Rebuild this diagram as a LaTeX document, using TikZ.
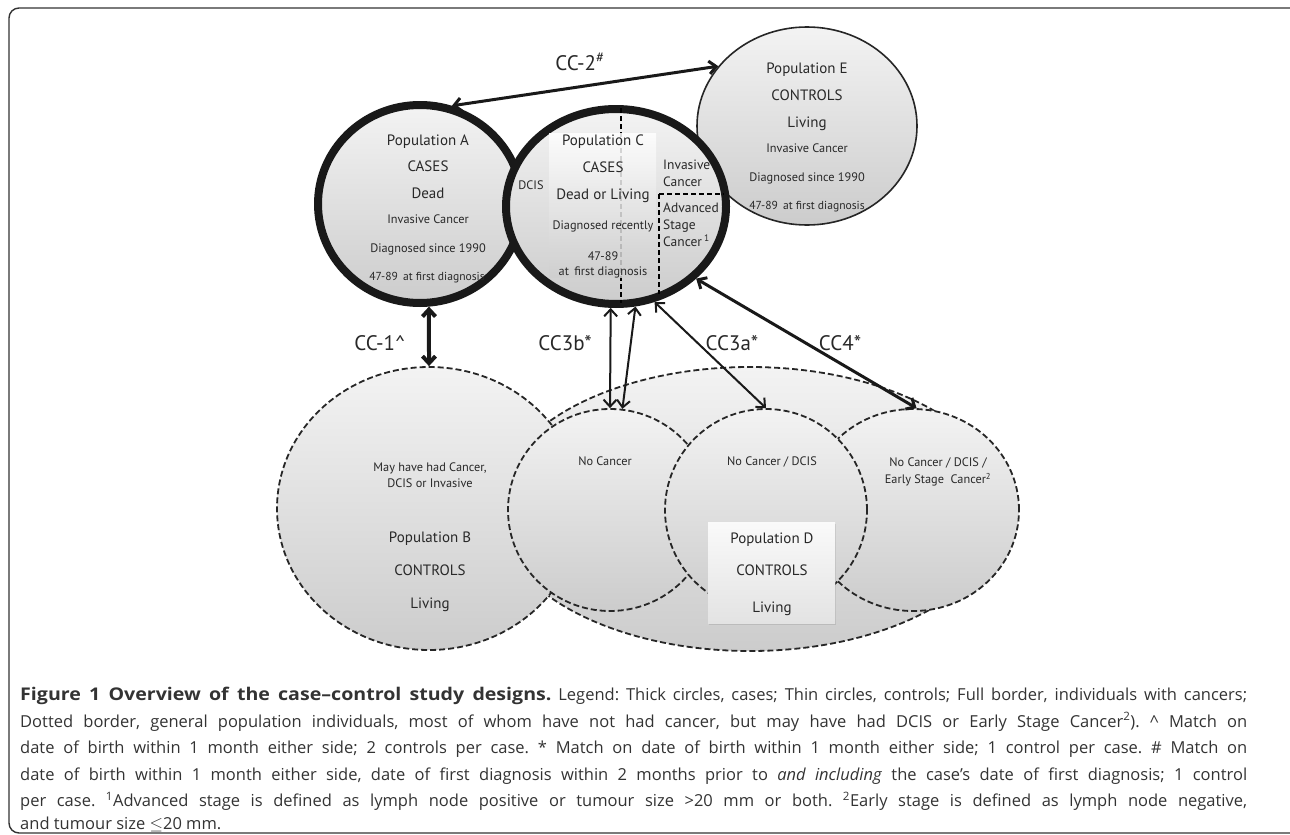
\documentclass[tikz,border=0pt]{standalone}
\usepackage{fontspec}
\setmainfont{PT Sans}
\newfontfamily\capfont{Open Sans}
\usetikzlibrary{arrows.meta,shapes.geometric,shadows}
\definecolor{lightfill}{RGB}{243,243,243}
\definecolor{darkfill}{RGB}{204,204,204}
\definecolor{inkgray}{RGB}{40,40,40}

\tikzset{
  popshade/.style={top color=lightfill, bottom color=darkfill},
  casering/.style={ellipse, draw=black!90, line width=8pt, popshade, inner sep=0pt},
  ctrlring/.style={ellipse, draw=black!85, line width=1.6pt, popshade, inner sep=0pt},
  genring/.style={ellipse, draw=black!85, line width=1.8pt, dash pattern=on 6pt off 3pt, popshade, inner sep=0pt},
  poptxt/.style={font=\fontsize{15}{18}\selectfont, text=inkgray, anchor=base, inner sep=0pt},
  infotxt/.style={font=\fontsize{12.3}{15}\selectfont, text=inkgray, anchor=base, inner sep=0pt},
  agetxt/.style={font=\fontsize{11.6}{14}\selectfont, text=inkgray, anchor=base, inner sep=0pt},
  sidetxt/.style={font=\fontsize{13.5}{16}\selectfont, text=inkgray, anchor=base west, inner sep=0pt},
  cclabel/.style={font=\fontsize{21}{25}\selectfont, text=inkgray, anchor=base, inner sep=0pt},
  captxt/.style={font=\capfont\fontsize{16.5}{19}\selectfont\frenchspacing, text=black!80, anchor=base west, inner sep=0pt},
  ccarrow/.style={{Straight Barb[length=7pt,width=13pt]}-{Straight Barb[length=7pt,width=13pt]}, line width=#1, black!90},
  ccarrow/.default=2pt
}
\newcommand{\capline}[1]{\makebox[1227pt][s]{#1}}
\newcommand{\capbold}[1]{{\fontsize{17.5}{19}\selectfont\bfseries\addfontfeatures{FakeStretch=1.12}#1}}

\begin{document}
\begin{tikzpicture}[x=1pt, y=-1pt]
  \useasboundingbox (0,0) rectangle (1290,835);
  % frame round figure and caption
  \draw[line width=1.4pt, black!80, rounded corners=10pt] (1300,8) -- (9,8) -- (9,833) -- (1300,833);

  % general population controls (dotted borders)
  \node[genring, minimum width=510pt, minimum height=284pt] (genpop) at (750,509) {};
  \node[genring, minimum width=304pt, minimum height=283pt] (popB) at (429,508.5) {};
  \node[genring, minimum width=204pt, minimum height=202pt] (noC) at (610,510) {};
  \node[genring, minimum width=212pt, minimum height=202pt] (noCE) at (913,510) {};
  \node[genring, minimum width=202pt, minimum height=202pt] (noCD) at (766,510) {};
  \node[draw=none, top color=gray!4, bottom color=gray!22, minimum width=127pt, minimum height=101pt,
        drop shadow={opacity=0.25, shadow xshift=1pt, shadow yshift=-1.5pt}] (popDbox) at (771.5,572.5) {};

  % cases and cancer controls (full borders)
  \node[casering, minimum width=204pt, minimum height=198pt] (popA) at (420,204) {};
  \node[ctrlring, minimum width=220pt, minimum height=198pt] (popE) at (807,126) {};
  \node[casering, minimum width=220pt, minimum height=195pt] (popC) at (616,206.5) {};

  % subdivisions of population C
  \draw[line width=1.4pt, dash pattern=on 5pt off 3pt] (621,108) -- (621,303);
  \draw[line width=1.4pt, dash pattern=on 5pt off 3pt] (659,194) -- (724,194);
  \draw[line width=1.4pt, dash pattern=on 5pt off 3pt] (659,194) -- (659,294);
  \node[draw=none, top color=white, bottom color=gray!38, fill opacity=0.85, minimum width=107pt,
        minimum height=144pt] (popCbox) at (602.5,205) {};

  % population A
  \node[poptxt] (aname) at (428,145) {Population A};
  \node[poptxt] (acase) at (428,171) {CASES};
  \node[poptxt] (adead) at (428,198) {Dead};
  \node[infotxt] (ainv) at (428,223.5) {Invasive Cancer};
  \node[infotxt] (adiag) at (428,252.5) {Diagnosed since 1990};
  \node[agetxt] (aage) at (427,280) {47-89\ \,at first diagnosis};

  % population C
  \node[poptxt] (cname) at (603,145) {Population C};
  \node[poptxt] (ccase) at (603,172) {CASES};
  \node[poptxt] (cdead) at (603,199) {Dead or Living};
  \node[infotxt] (cdiag) at (603,229.5) {Diagnosed recently};
  \node[infotxt] (cage) at (603,260.5) {47-89};
  \node[infotxt] (cage2) at (603,275.5) {at\ \,first diagnosis};
  \node[infotxt] (cdcis) at (531,189.5) {DCIS};
  \node[sidetxt] (cinv) at (663,169.5) {Invasive};
  \node[sidetxt] (cinv2) at (663,186.5) {Cancer};
  \node[sidetxt] (cadv) at (663,212.5) {Advanced};
  \node[sidetxt] (cadv2) at (663,229.5) {Stage};
  \node[sidetxt] (cadv3) at (663,246.5) {Cancer\,\textsuperscript{1}};

  % population E
  \node[poptxt] (ename) at (807,73) {Population E};
  \node[poptxt] (ectrl) at (807,100) {CONTROLS};
  \node[poptxt] (eliv) at (807,127) {Living};
  \node[infotxt] (einv) at (807,152.5) {Invasive Cancer};
  \node[infotxt] (ediag) at (807,181.5) {Diagnosed since 1990};
  \node[agetxt] (eage) at (807,209.5) {47-89\ \,at first diagnosis};

  % population B
  \node[infotxt] (bmay) at (430,471.5) {May have had Cancer,};
  \node[infotxt] (bmay2) at (430,487.5) {DCIS or Invasive};
  \node[poptxt] (bname) at (430,542) {Population B};
  \node[poptxt] (bctrl) at (430,575) {CONTROLS};
  \node[poptxt] (bliv) at (430,608) {Living};

  % general population subgroups
  \node[infotxt] (f1txt) at (605,465.5) {No Cancer};
  \node[infotxt] (f2txt) at (772,465.5) {No Cancer / DCIS};
  \node[infotxt] (f3txt) at (938,466.5) {No Cancer / DCIS /};
  \node[infotxt] (f3txt2) at (938,483.5) {Early Stage\ \ Cancer\textsuperscript{2}};

  % population D
  \node[poptxt] (dname) at (772,543) {Population D};
  \node[poptxt] (dctrl) at (772,575) {CONTROLS};
  \node[poptxt] (dliv) at (772,612) {Living};

  % matching arrows
  \draw[ccarrow=3pt] (popA.72) -- (popE.146);
  \draw[ccarrow=4pt] (popA.-85) -- (popB.north);
  \draw[ccarrow] (popC.-93) -- (noC.north);
  \draw[ccarrow] (popC.-79) -- (noC.83);
  \draw[ccarrow] (popC.-68) -- (noCD.north);
  \draw[ccarrow=3pt] (popC.-42) -- (noCE.88);

  \node[cclabel] (lcc2) at (580,70) {CC-2\textsuperscript{\#}};
  \node[cclabel] (lcc1) at (380,350) {CC-1\textasciicircum};
  \node[cclabel] (lcc3b) at (565,350) {CC3b*};
  \node[cclabel] (lcc3a) at (732,350) {CC3a*};
  \node[cclabel] (lcc4) at (840,350) {CC4*};

  % caption
  \node[captxt] (cap1) at (20,700.5) {\capline{\capbold{Figure 1 Overview of the case–control study designs.} Legend: Thick circles, cases; Thin circles, controls; Full border, individuals with cancers;}};
  \node[captxt] (cap2) at (20,727) {\capline{Dotted border, general population individuals, most of whom have not had cancer, but may have had DCIS or Early Stage Cancer\textsuperscript{2}). \textasciicircum{} Match on}};
  \node[captxt] (cap3) at (20,753.5) {\capline{date of birth within 1 month either side; 2 controls per case. * Match on date of birth within 1 month either side; 1 control per case. \# Match on}};
  \node[captxt] (cap4) at (20,780) {\capline{date of birth within 1 month either side, date of first diagnosis within 2 months prior to \textit{and including} the case’s date of first diagnosis; 1 control}};
  \node[captxt] (cap5) at (20,806.5) {\capline{per case. \textsuperscript{1}Advanced stage is defined as lymph node positive or tumour size >20 mm or both. \textsuperscript{2}Early stage is defined as lymph node negative,}};
  \node[captxt] (cap6) at (20,829) {and tumour size $\leq$20 mm.};
\end{tikzpicture}
\end{document}
